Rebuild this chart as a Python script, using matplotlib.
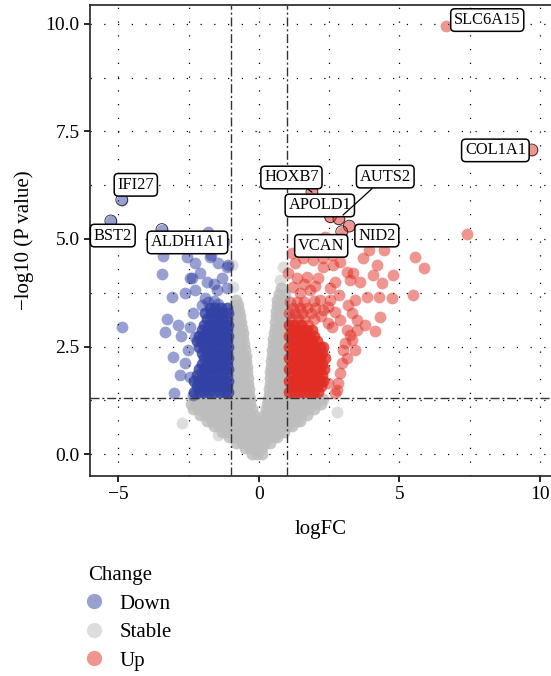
import numpy as np
import matplotlib.pyplot as plt
from matplotlib.lines import Line2D

plt.rcParams['font.family'] = ['Liberation Serif', 'DejaVu Serif']

stable_rows = [
    (0.00, [-0.25, -0.05, 0.1]),
    (0.13, [-0.5, -0.3, -0.1, 0.1]),
    (0.26, [-0.8, -0.6, -0.4, -0.2, 0.0, 0.2, 0.4]),
    (0.39, [-1.05, -0.85, -0.65, -0.45, -0.25, -0.05, 0.15, 0.35, 0.55, 0.66]),
    (0.52, [-1.3, -1.1, -0.9, -0.7, -0.5, -0.3, -0.1, 0.1, 0.3, 0.5, 0.7, 0.9]),
    (0.65, [-1.6, -1.4, -1.2, -1.0, -0.8, -0.6, -0.4, -0.2, 0.0, 0.2, 0.4, 0.6, 0.8, 1.0, 1.18]),
    (0.78, [-1.85, -1.65, -1.45, -1.25, -1.05, -0.85, -0.65, -0.45, -0.25, -0.05, 0.15, 0.35,
            0.55, 0.75, 0.95, 1.15, 1.35, 1.45]),
    (0.91, [-2.1, -1.9, -1.7, -1.5, -1.3, -1.1, -0.9, -0.7, -0.5, -0.3, -0.17, 0.17, 0.3, 0.5,
            0.7, 0.9, 1.1, 1.3, 1.5, 1.7]),
    (1.04, [-2.35, -2.15, -1.95, -1.75, -1.55, -1.35, -1.15, -0.95, -0.75, -0.55, -0.38, -0.24,
            0.24, 0.38, 0.55, 0.75, 0.95, 1.15, 1.35, 1.55, 1.75, 1.95]),
    (1.17, [-2.4, -2.2, -2.0, -1.8, -1.6, -1.4, -1.2, -1.0, -0.8, -0.6, -0.45, -0.3,
            0.3, 0.45, 0.6, 0.8, 1.0, 1.2, 1.4, 1.6, 1.8, 2.0, 2.2]),
    (1.27, [-2.3, -2.1, -1.9, -1.7, -1.5, -1.3, -1.1, -0.9, -0.7, -0.55, -0.42, -0.32,
            0.32, 0.42, 0.55, 0.7, 0.9, 1.1, 1.3, 1.5, 1.7, 1.9, 2.1, 2.3]),
    (1.38, [-0.95, -0.75, -0.55, -0.35, 0.35, 0.55, 0.75, 0.95]),
    (1.51, [-0.9, -0.7, -0.5, -0.36, 0.36, 0.5, 0.7, 0.9]),
    (1.64, [-0.95, -0.75, -0.55, -0.38, 0.38, 0.55, 0.75, 0.95]),
    (1.77, [-0.9, -0.7, -0.55, -0.39, 0.39, 0.55, 0.7, 0.9]),
    (1.90, [-0.95, -0.75, -0.58, -0.41, 0.41, 0.58, 0.75, 0.95]),
    (2.03, [-0.9, -0.7, -0.55, -0.43, 0.42, 0.55, 0.7, 0.9]),
    (2.16, [-0.95, -0.78, -0.62, -0.45, 0.44, 0.6, 0.78, 0.95]),
    (2.29, [-0.9, -0.72, -0.56, -0.47, 0.46, 0.6, 0.75, 0.9]),
    (2.42, [-0.95, -0.8, -0.65, -0.5, 0.48, 0.63, 0.8, 0.95]),
    (2.55, [-0.9, -0.73, -0.53, 0.5, 0.68, 0.85]),
    (2.68, [-0.95, -0.78, -0.56, 0.52, 0.7, 0.9]),
    (2.81, [-0.88, -0.72, -0.58, 0.54, 0.72, 0.92]),
    (2.94, [-0.93, -0.77, -0.61, 0.56, 0.75, 0.95]),
    (3.07, [-0.86, -0.72, -0.63, 0.58, 0.76, 0.9]),
    (3.20, [-0.9, -0.76, -0.66, 0.6, 0.78, 0.95]),
    (3.33, [-0.85, -0.7, 0.62, 0.8]),
    (3.46, [-0.88, -0.74, 0.64, 0.85]),
    (3.59, [-0.82, 0.66, 0.9]),
    (3.72, [0.72, 0.92]),
    (3.85, [0.8]),
]
stable_extra_x = [-0.92, -0.96, 0.85, 0.75, -2.75, -1.45, 2.8]
stable_extra_y = [3.88, 4.40, 4.35, 4.05, 0.72, 0.44, 0.98]

# Down-regulated genes: dense block rows plus scattered points
down_rows = [
    (1.45, [-2.3, -2.12, -1.94, -1.76, -1.58, -1.4, -1.22, -1.08]),
    (1.58, [-2.2, -2.02, -1.84, -1.66, -1.48, -1.3, -1.12]),
    (1.71, [-2.3, -2.12, -1.94, -1.76, -1.58, -1.4, -1.22, -1.08]),
    (1.84, [-2.2, -2.02, -1.84, -1.66, -1.48, -1.3, -1.12]),
    (1.97, [-2.12, -1.94, -1.76, -1.58, -1.4, -1.22, -1.08]),
    (2.10, [-2.02, -1.84, -1.66, -1.48, -1.3, -1.12]),
    (2.23, [-1.94, -1.76, -1.58, -1.4, -1.22, -1.08]),
    (2.36, [-2.02, -1.84, -1.66, -1.48, -1.3, -1.12]),
    (2.49, [-2.12, -1.94, -1.76, -1.58, -1.4, -1.22, -1.08]),
    (2.62, [-2.2, -2.02, -1.84, -1.66, -1.48, -1.3, -1.12]),
    (2.75, [-2.12, -1.94, -1.76, -1.58, -1.4, -1.22, -1.08]),
    (2.88, [-2.02, -1.84, -1.66, -1.48, -1.3, -1.12]),
    (3.01, [-1.94, -1.76, -1.58, -1.4, -1.22, -1.08]),
    (3.14, [-1.84, -1.66, -1.48, -1.3, -1.12]),
    (3.27, [-1.9, -1.7, -1.5, -1.3, -1.1]),
    (3.40, [-1.75, -1.55, -1.35, -1.15]),
]
down_extra_x = [-4.88, -3.42, -3.45, -3.10, -3.27, -3.35, -2.88, -2.76, -3.06, -2.81, -3.03,
                -2.35, -2.63, -2.53, -2.46, -2.63, -2.38, -2.10, -2.28, -2.56, -2.35, -2.46,
                -2.28, -2.28, -1.92, -2.03, -1.49, -1.32, -1.14, -1.74, -1.70, -1.25, -1.81,
                -2.46, -1.60, -1.85, -1.15, -1.45, -1.10, -1.8, -1.6, -1.45]
down_extra_y = [2.95, 4.60, 4.18, 3.65, 3.13, 2.84, 3.00, 2.74, 2.26, 1.84, 1.42,
                1.37, 2.12, 2.42, 1.79, 3.74, 4.09, 4.21, 4.44, 4.58, 3.28, 2.95,
                2.72, 3.81, 3.63, 3.47, 3.81, 4.09, 4.35, 4.58, 4.62, 4.93, 5.16,
                4.09, 3.95, 4.00, 3.85, 4.45, 4.40, 3.53, 3.55, 3.5]

# Up-regulated genes
up_rows = [
    (1.45, [1.08, 1.26, 1.44, 1.62, 1.8, 1.98, 2.12]),
    (1.58, [1.17, 1.35, 1.53, 1.71, 1.89, 2.07, 2.22]),
    (1.71, [1.08, 1.26, 1.44, 1.62, 1.8, 1.98, 2.16, 2.3]),
    (1.84, [1.17, 1.35, 1.53, 1.71, 1.89, 2.07, 2.25]),
    (1.97, [1.08, 1.26, 1.44, 1.62, 1.8, 1.98, 2.16, 2.32]),
    (2.10, [1.17, 1.35, 1.53, 1.71, 1.89, 2.07, 2.25]),
    (2.23, [1.08, 1.26, 1.44, 1.62, 1.8, 1.98, 2.16, 2.34]),
    (2.36, [1.17, 1.35, 1.53, 1.71, 1.89, 2.07, 2.25]),
    (2.49, [1.08, 1.26, 1.44, 1.62, 1.8, 1.98, 2.16, 2.3]),
    (2.62, [1.17, 1.35, 1.53, 1.71, 1.89, 2.07]),
    (2.75, [1.08, 1.26, 1.44, 1.62, 1.8, 1.98]),
    (2.88, [1.17, 1.35, 1.53, 1.71, 1.9]),
    (3.01, [1.08, 1.26, 1.5]),
]
up_extra_x = [5.55, 5.87, 5.48, 4.77, 4.73, 4.31, 4.13, 4.27, 3.84, 4.38, 4.06, 4.20, 4.45,
              3.92, 3.70, 3.59, 3.42, 3.77, 3.49, 3.31, 3.17, 3.35, 3.24, 3.13, 2.88, 2.63,
              2.28, 1.92, 1.71, 1.28, 1.17, 2.10, 2.53, 2.70, 3.49, 3.24, 3.42, 2.99, 3.13,
              2.95, 2.88, 2.81, 2.70, 3.31, 3.06, 3.13, 2.88, 2.70, 2.53, 2.17, 2.46, 1.81,
              1.46, 1.21, 1.03, 1.57, 2.28, 2.60, 7.40, 2.35, 2.46, 2.78, 2.60, 2.20, 2.45,
              2.30, 1.95, 2.00, 1.35, 1.60, 2.85, 2.45, 1.75, 1.17, 1.4, 1.62, 1.95, 1.08,
              1.3, 1.55, 1.85, 1.2, 1.45, 1.7, 2.0, 1.1, 1.35, 1.6]
up_extra_y = [4.58, 4.32, 3.70, 4.16, 3.63, 3.19, 2.86, 3.65, 3.65, 3.98, 4.16, 4.40, 4.74,
              4.74, 4.56, 4.00, 3.58, 3.00, 3.12, 3.28, 3.47, 4.21, 4.05, 4.23, 4.47, 4.40,
              4.35, 4.51, 4.12, 4.44, 4.67, 4.09, 3.86, 4.00, 2.88, 2.77, 2.42, 2.42, 2.23,
              2.12, 1.88, 1.65, 1.42, 2.65, 2.58, 2.88, 3.12, 3.30, 3.58, 3.58, 3.42, 3.81,
              3.74, 3.88, 4.21, 4.56, 4.56, 4.63, 5.12, 5.05, 1.65, 1.50, 2.95, 3.20, 3.05,
              3.35, 3.55, 3.90, 4.10, 3.95, 3.70, 4.85, 3.01, 3.14, 3.14, 3.14, 3.14, 3.27,
              3.27, 3.27, 3.27, 3.40, 3.40, 3.40, 3.40, 3.53, 3.53, 3.53]

# Labelled genes
label_genes = ['SLC6A15', 'COL1A1', 'HOXB7', 'APOLD1', 'AUTS2', 'NID2', 'VCAN',
               'IFI27', 'BST2', 'ALDH1A1']
label_fc = [6.67, 9.72, 1.89, 2.55, 2.85, 3.22, 2.95, -4.88, -5.27, -3.45]
label_p = [9.95, 7.07, 6.09, 5.52, 5.47, 5.30, 5.17, 5.91, 5.42, 5.22]
label_change = ['Up', 'Up', 'Up', 'Up', 'Up', 'Up', 'Up', 'Down', 'Down', 'Down']


def rows_to_xy(rows):
    xs = [x for y, row in rows for x in row]
    ys = [y for y, row in rows for x in row]
    return np.array(xs), np.array(ys)


stable_cx, stable_cy = rows_to_xy(stable_rows)
down_cx, down_cy = rows_to_xy(down_rows)
up_cx, up_cy = rows_to_xy(up_rows)

colors = {'Down': '#3241A5', 'Stable': '#BDBDBD', 'Up': '#E12D23'}
alpha = 0.5
core_alpha = 0.8   # dense blocks: thousands of overlapping points in the original
size = 72

fig = plt.figure(figsize=(5.51, 6.76), dpi=100)
ax = fig.add_axes([90 / 551, 200 / 676, 461 / 551, 471 / 676])

ax.scatter(stable_cx, stable_cy, s=size, c=colors['Stable'], alpha=0.85, lw=0, zorder=2)
ax.scatter(stable_extra_x, stable_extra_y, s=size, c=colors['Stable'], alpha=alpha, lw=0, zorder=2)
ax.scatter(down_cx, down_cy, s=size, c=colors['Down'], alpha=core_alpha, lw=0, zorder=3)
ax.scatter(down_extra_x, down_extra_y, s=size, c=colors['Down'], alpha=alpha, lw=0, zorder=3)
ax.scatter(up_cx, up_cy, s=size, c=colors['Up'], alpha=core_alpha, lw=0, zorder=3)
ax.scatter(up_extra_x, up_extra_y, s=size, c=colors['Up'], alpha=alpha, lw=0, zorder=3)
for g, x, y, ch in zip(label_genes, label_fc, label_p, label_change):
    ax.scatter([x], [y], s=size, facecolor=colors[ch], alpha=alpha, lw=0, zorder=4)
    if g != 'SLC6A15':
        ax.scatter([x], [y], s=size, facecolor='none', edgecolor='#222222', lw=0.6, zorder=4)

# threshold lines
dd = (0, (6.5, 2, 1.5, 2))
for v in (-1, 1):
    ax.axvline(v, color='#333333', lw=1.0, ls=dd, zorder=5)
ax.axhline(-np.log10(0.05), color='#333333', lw=1.0, ls=dd, zorder=5)

# label boxes
text_pos = {
    'SLC6A15': (8.13, 10.09), 'COL1A1': (8.42, 7.06), 'HOXB7': (1.16, 6.43),
    'APOLD1': (2.17, 5.78), 'AUTS2': (4.5, 6.45), 'NID2': (4.2, 5.08),
    'VCAN': (2.22, 4.84), 'IFI27': (-4.38, 6.26), 'BST2': (-5.2, 5.08),
    'ALDH1A1': (-2.54, 4.92),
}
with_segment = ['HOXB7', 'AUTS2']
box = dict(boxstyle='round,pad=0.2,rounding_size=0.25', fc='white', ec='black', lw=1.1)
for g, x, y in zip(label_genes, label_fc, label_p):
    tx, ty = text_pos[g]
    if g in with_segment:
        ax.annotate(g, xy=(x, y), xytext=(tx, ty), ha='center', va='center', fontsize=11.8,
                    bbox=box, zorder=6,
                    arrowprops=dict(arrowstyle='-', color='black', lw=0.9, shrinkA=0, shrinkB=4))
    else:
        ax.text(tx, ty, g, ha='center', va='center', fontsize=11.8, bbox=box, zorder=6)

ax.set_xlim(-6.01, 10.4)
ax.set_ylim(-0.51, 10.44)
ax.set_xticks([-5, 0, 5, 10])
ax.set_xticks([-2.5, 2.5, 7.5], minor=True)
ax.set_yticks([0, 2.5, 5, 7.5, 10])
ax.set_yticklabels(['0.0', '2.5', '5.0', '7.5', '10.0'])
ax.set_yticks([1.25, 3.75, 6.25, 8.75], minor=True)
ax.grid(True, which='both', color='black', lw=0.9, ls=(0, (1, 10)), zorder=0)
ax.set_axisbelow(True)
ax.tick_params(which='major', direction='out', length=4, width=1.2, labelsize=14, colors='black')
ax.tick_params(which='minor', length=0)
ax.spines['right'].set_visible(False)
for s in ('left', 'bottom', 'top'):
    ax.spines[s].set_linewidth(1.2)
    ax.spines[s].set_color('#222222')

ax.set_xlabel('logFC', fontsize=15, labelpad=12)
ax.set_ylabel('\u2212log10 (P value)', fontsize=15, labelpad=8)

handles = [Line2D([], [], marker='o', ls='', markersize=11, markerfacecolor=colors[k],
                  markeredgewidth=0, alpha=alpha) for k in ('Down', 'Stable', 'Up')]
fig.legend(handles, ['Down', 'Stable', 'Up'], title='Change', loc='upper left',
           bbox_to_anchor=(88 / 551, 1 - 566 / 676), frameon=False, fontsize=15,
           title_fontsize=15, alignment='left', handlelength=0.6, handletextpad=0.9,
           labelspacing=0.43, borderpad=0, borderaxespad=0)

fig.savefig('out.png', dpi=100)
